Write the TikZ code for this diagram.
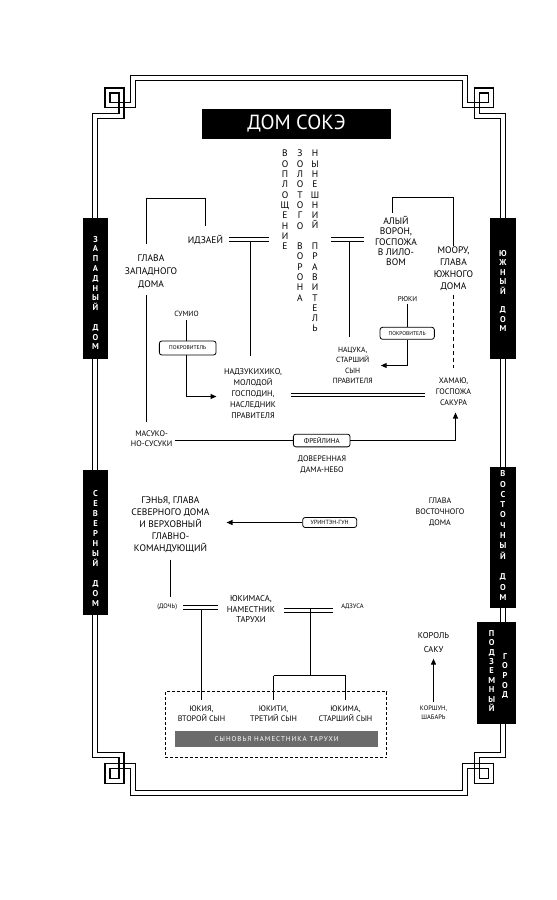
\documentclass[tikz,border=0pt]{standalone}
\usepackage{fontspec}
\setmainfont{PT Sans}
\usetikzlibrary{arrows.meta}
\definecolor{bargray}{HTML}{6B6B6B}
\begin{document}
\begin{tikzpicture}[x=1pt,y=-1pt,
  fr/.style={line width=1.1pt},
  ln/.style={line width=1.1pt},
  arr/.style={ln,-{Triangle[length=6pt,width=5pt]}},
  dbl/.style={double,double distance=2.9pt,line width=1.1pt},
  dblb/.style={double,double distance=2.2pt,line width=1.3pt},
  lb/.style 2 args={font=\fontsize{#1}{#2}\selectfont,align=center,inner sep=0pt},
  vcol/.style={font=\fontsize{9.5}{10.3}\selectfont,align=center,inner sep=0pt},
  sidebox/.style={fill=black,inner sep=0pt},
  st/.style={text=white,font=\fontsize{8.5}{#1}\selectfont\bfseries,align=center,inner sep=0pt},
  pbox/.style={draw,line width=0.8pt,rounded corners=2.5pt,inner sep=0pt,fill=white},
  titlebox/.style={fill=black,text=white,inner sep=0pt,font=\fontsize{20.5}{20}\selectfont}]
\useasboundingbox (0,0) rectangle (557,900);
\fill[white] (0,0) rectangle (557,900);
% frame
\draw[fr] (92.5,113.5) -- (119,113.5) -- (119,93) -- (110,93) -- (110,102.5) -- (130.5,102.5) -- (130.5,75.5) -- (467.7,75.5) -- (467.7,102.5) -- (488.2,102.5) -- (488.2,93) -- (479.2,93) -- (479.2,113.5) -- (505.7,113.5) -- (505.7,757.9) -- (479.2,757.9) -- (479.2,778.4) -- (488.2,778.4) -- (488.2,768.9) -- (467.7,768.9) -- (467.7,795.9) -- (130.5,795.9) -- (130.5,768.9) -- (110,768.9) -- (110,778.4) -- (119,778.4) -- (119,757.9) -- (92.5,757.9) -- cycle;
\draw[fr] (97.5,118.5) -- (124,118.5) -- (124,88) -- (105,88) -- (105,107.5) -- (135.5,107.5) -- (135.5,80.5) -- (462.7,80.5) -- (462.7,107.5) -- (493.2,107.5) -- (493.2,88) -- (474.2,88) -- (474.2,118.5) -- (500.7,118.5) -- (500.7,752.9) -- (474.2,752.9) -- (474.2,783.4) -- (493.2,783.4) -- (493.2,763.9) -- (462.7,763.9) -- (462.7,790.9) -- (135.5,790.9) -- (135.5,763.9) -- (105,763.9) -- (105,783.4) -- (124,783.4) -- (124,752.9) -- (97.5,752.9) -- cycle;
% side boxes
\node[sidebox,minimum width=25.6pt,minimum height=141pt] (wbox) at (95.5,288.8) {};
\node[st=9.8] (wtxt) at (95.5,293) {З\\А\\П\\А\\Д\\Н\\Ы\\Й\\[9.8pt]Д\\О\\М};
\node[sidebox,minimum width=25.6pt,minimum height=145pt] (nbox) at (95.5,542.5) {};
\node[st=10] (ntxt) at (95.5,548) {С\\Е\\В\\Е\\Р\\Н\\Ы\\Й\\[10pt]Д\\О\\М};
\node[sidebox,minimum width=25.7pt,minimum height=141pt] (sbox) at (502.9,288.5) {};
\node[st=9.4] (stxt) at (502.9,291) {Ю\\Ж\\Н\\Ы\\Й\\[9.4pt]Д\\О\\М};
\node[sidebox,minimum width=25.7pt,minimum height=141.6pt] (ebox) at (502.9,537.5) {};
\node[st=10.3] (etxt) at (502.9,535.5) {В\\О\\С\\Т\\О\\Ч\\Н\\Ы\\Й\\[10.3pt]Д\\О\\М};
\node[sidebox,minimum width=38.2pt,minimum height=102pt] (ubox) at (496.4,673) {};
\node[st=9.4] (utxt1) at (491.7,671) {П\\О\\Д\\З\\Е\\М\\Н\\Ы\\Й};
\node[st=9.6] (utxt2) at (505,676) {Г\\О\\Р\\О\\Д};
% title
\node[titlebox,minimum width=188.4pt,minimum height=30.3pt] (title) at (296.5,123.9) {ДОМ СОКЭ};
% central columns
\node[vcol,anchor=north] (c1) at (285,150) {В\\О\\П\\Л\\О\\Щ\\Е\\Н\\И\\Е};
\node[vcol,anchor=north] (c2) at (300,150) {З\\О\\Л\\О\\Т\\О\\Г\\О\\[10.3pt]В\\О\\Р\\О\\Н\\А};
\node[vcol,anchor=north] (c3) at (315,150) {Н\\Ы\\Н\\Е\\Ш\\Н\\И\\Й\\[10.3pt]П\\Р\\А\\В\\И\\Т\\Е\\Л\\Ь};
% people
\node[lb={9.5}{10}] (idz) at (205.5,239.5) {ИДЗАЕЙ};
\node[lb={9.5}{13}] (gw) at (151,271.3) {ГЛАВА\\ЗАПАДНОГО\\ДОМА};
\node[lb={9.5}{10.4}] (alyi) at (396,241) {АЛЫЙ\\ВОРОН,\\ГОСПОЖА\\В ЛИЛО-\\ВОМ};
\node[lb={9.5}{11.9}] (moory) at (453.5,268.9) {МООРУ,\\ГЛАВА\\ЮЖНОГО\\ДОМА};
\node[lb={7.5}{8}] (sum) at (186.5,314) {СУМИО};
\node[pbox,minimum width=56.7pt,minimum height=14pt,font=\fontsize{5.5}{6}\selectfont] (pk1) at (187.7,348) {ПОКРОВИТЕЛЬ};
\node[lb={7}{8}] (ryu) at (407.5,299) {РЮКИ};
\node[pbox,minimum width=54.3pt,minimum height=12pt,font=\fontsize{5.5}{6}\selectfont] (pk2) at (407.2,333.3) {ПОКРОВИТЕЛЬ};
\node[lb={8.2}{11}] (nadz) at (253,393.5) {НАДЗУКИХИКО,\\МОЛОДОЙ\\ГОСПОДИН,\\НАСЛЕДНИК\\ПРАВИТЕЛЯ};
\node[lb={7.5}{10.3}] (nac) at (352.7,365.5) {НАЦУКА,\\СТАРШИЙ\\СЫН\\ПРАВИТЕЛЯ};
\node[lb={8}{10.8}] (ham) at (453.5,391.6) {ХАМАЮ,\\ГОСПОЖА\\САКУРА};
\node[lb={8}{10}] (mas) at (151.7,439) {МАСУКО-\\НО-СУСУКИ};
\node[pbox,minimum width=56.7pt,minimum height=12.7pt,font=\fontsize{7}{7}\selectfont] (frey) at (321.7,440.5) {ФРЕЙЛИНА};
\node[lb={8}{11}] (dov) at (322,465) {ДОВЕРЕННАЯ\\ДАМА-НЕБО};
\node[lb={9.5}{11.9}] (gen) at (170.5,524.5) {ГЭНЬЯ, ГЛАВА\\СЕВЕРНОГО ДОМА\\И ВЕРХОВНЫЙ\\ГЛАВНО-\\КОМАНДУЮЩИЙ};
\node[pbox,minimum width=54pt,minimum height=10pt,font=\fontsize{6}{6}\selectfont] (urin) at (329.7,522.5) {УРИНТЭН-ГУН};
\node[lb={8}{11.3}] (geast) at (440,512) {ГЛАВА\\ВОСТОЧНОГО\\ДОМА};
\node[lb={6.5}{7}] (doch) at (167.2,606.7) {(ДОЧЬ)};
\node[lb={8.5}{10.8}] (yukm) at (251,609) {ЮКИМАСА,\\НАМЕСТНИК\\ТАРУХИ};
\node[lb={6.5}{7}] (adz) at (352.5,607) {АДЗУСА};
\node[draw,dashed,dash pattern=on 3pt off 2pt,line width=0.9pt,minimum width=221.7pt,minimum height=66.1pt,inner sep=0pt] (sons) at (275.85,724.75) {};
\node[lb={8}{10}] (yukiya) at (201.5,713.3) {ЮКИЯ,\\ВТОРОЙ СЫН};
\node[lb={8}{10}] (yukiti) at (273.5,713.3) {ЮКИТИ,\\ТРЕТИЙ СЫН};
\node[lb={8}{10}] (yukima) at (345.5,713.3) {ЮКИМА,\\СТАРШИЙ СЫН};
\node[fill=bargray,text=white,minimum width=203.3pt,minimum height=16.6pt,inner sep=0pt,font=\fontsize{7}{7}\selectfont\addfontfeature{LetterSpace=14}] (bar) at (276.65,739) {СЫНОВЬЯ НАМЕСТНИКА ТАРУХИ};
\node[lb={8.5}{14.3}] (korol) at (433.5,642.2) {КОРОЛЬ\\САКУ};
\node[lb={6.5}{9}] (korsh) at (433.5,712.8) {КОРШУН,\\ШАБАРЬ};
% level coordinates for bends
\coordinate (wtop) at (0,198.5);
\coordinate (stop) at (0,197.5);
\coordinate (sumy) at (0,396.5);
\coordinate (br) at (310.5,675.5);
% connectors
\draw[ln] ([xshift=-4.5pt,yshift=10pt]gw.north) |- (idz.north |- wtop) -- ([yshift=9pt]idz.north);
\draw[ln,shorten >=9pt] ([xshift=-4.5pt,yshift=-7pt]gw.south) -- ([xshift=-5.2pt]mas.north);
\draw[dbl,shorten <=6pt,shorten >=11pt] (idz.east) -- (idz.east -| c1.west);
\coordinate (m1) at (250.5,241.7);
\draw[ln,shorten >=12pt] (m1) -- (m1 |- nadz.north);
\draw[dbl,shorten <=11.5pt,shorten >=11pt] (c3.east |- idz.east) -- (alyi.west |- idz.east);
\coordinate (m2) at (349.5,241.7);
\draw[ln,shorten >=10pt] (m2) -- (m2 |- nac.north);
\draw[ln] ([xshift=-3.5pt,yshift=3pt]alyi.north) |- (moory.north |- stop) -- ([yshift=1pt]moory.north);
\draw[ln,dashed,dash pattern=on 4pt off 3pt] ([yshift=-4pt]moory.south) -- ([yshift=10pt]ham.north);
\draw[ln,shorten <=2pt] (ryu.south) -- (ryu.south |- pk2.north);
\draw[arr] (pk2.south -| ryu.south) |- ([xshift=8pt]nac.east);
\draw[ln,shorten <=3pt] (sum.south) -- (sum.south |- pk1.north);
\draw[arr] (pk1.south -| sum.south) |- ([xshift=-7.3pt]nadz.west |- sumy);
\draw[dblb,shorten <=9pt,shorten >=11pt] ([yshift=-1.5pt]nadz.east) -- ([yshift=-1.5pt]nadz.east -| ham.west);
\draw[ln] ([xshift=2pt]mas.east |- frey.west) -- (frey.west);
\draw[arr] (frey.east) -| ([xshift=2pt,yshift=-7pt]ham.south);
\draw[arr] (urin.west) -- ([xshift=16.8pt]gen.east |- urin.west);
\draw[ln,shorten <=7pt,shorten >=6pt] (gen.south) -- (gen.south |- doch.north);
\draw[dbl,shorten <=6pt,shorten >=8.7pt] ([yshift=-0.5pt]doch.east) -- ([yshift=-0.5pt]doch.east -| yukm.west);
\draw[dbl,shorten <=9pt,shorten >=8.3pt] ([yshift=-1.8pt]yukm.east) -- ([yshift=-1.8pt]yukm.east -| adz.west);
\coordinate (m3) at (201.5,609.2);
\draw[ln,shorten >=4.8pt] (m3) -- (m3 |- yukiya.north);
\coordinate (m4) at (310.5,609.2);
\draw[ln] (m4) -- (br);
\draw[ln] (br -| yukiti.north) -- (br -| yukima.north);
\draw[ln,shorten >=4.8pt] (br -| yukiti.north) -- (yukiti.north);
\draw[ln,shorten >=4.8pt] (br -| yukima.north) -- (yukima.north);
\draw[arr,shorten <=4pt] (korsh.north) -- ([yshift=-6pt]korol.south);
\end{tikzpicture}
\end{document}
